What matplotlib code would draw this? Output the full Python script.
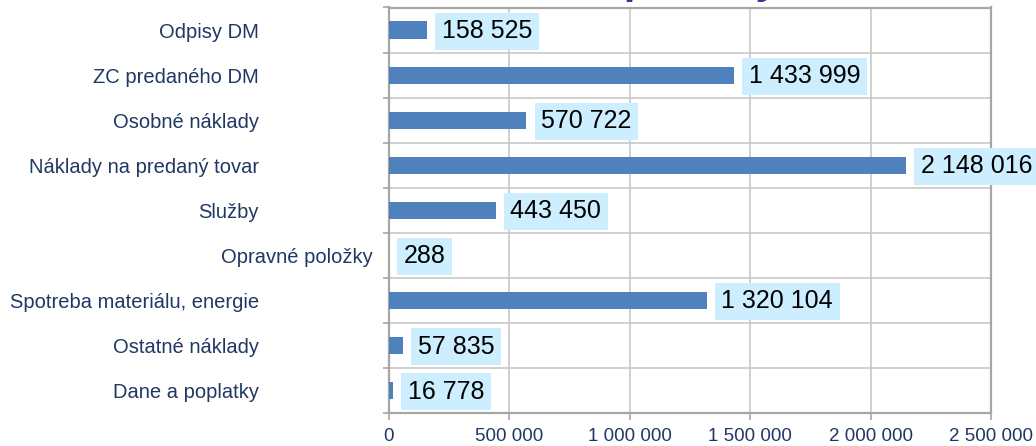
import matplotlib.pyplot as plt
import numpy as np
from matplotlib.ticker import FuncFormatter, MultipleLocator
import matplotlib.transforms as mtransforms

plt.rcParams['font.family'] = ['Liberation Sans', 'DejaVu Sans']

categories = ['Odpisy DM', 'ZC predaného DM', 'Osobné náklady',
              'Náklady na predaný tovar', 'Služby', 'Opravné položky',
              'Spotreba materiálu, energie', 'Ostatné náklady',
              'Dane a poplatky']
values = [158525, 1433999, 570722, 2148016, 443450, 288, 1320104, 57835,
          16778]
title = 'Nákladové položky'

bar_color = '#4f81bd'
label_bg = '#cdeeff'
text_blue = '#1f3864'
grid_gray = '#c8c8c8'
spine_gray = '#a6a6a6'


def fmt(v, pos=None):
    return '{:,}'.format(int(v)).replace(',', ' ')


fig = plt.figure(figsize=(10.36, 4.46), dpi=100)
ax = fig.add_axes([389 / 1036, 1 - 413 / 446, 602 / 1036, 405.5 / 446])

y = np.arange(len(categories))
ax.barh(y, values, height=0.38, color=bar_color, zorder=3)

for yi, v in zip(y, values):
    ax.annotate(fmt(v), xy=(v, yi), xytext=(10.5, -0.8),
                textcoords='offset points', ha='left', va='center',
                fontsize=18, color='black', zorder=4, annotation_clip=False,
                bbox=dict(boxstyle='square,pad=0.26', fc=label_bg, ec='none'))

ax.set_xlim(0, 2500000)
ax.set_ylim(len(categories) - 0.5, -0.5)
ax.xaxis.set_major_locator(MultipleLocator(500000))
ax.xaxis.set_major_formatter(FuncFormatter(fmt))

ax.set_yticks(y)
ax.set_yticklabels(categories)
ax.set_yticks(np.arange(len(categories) + 1) - 0.5, minor=True)
ax.tick_params(axis='y', which='major', length=0, pad=93.5,
               labelsize=14.5, labelcolor=text_blue)
ax.tick_params(axis='y', which='minor', length=4.5, width=1.2,
               color=spine_gray)
ax.tick_params(axis='x', length=5, width=1.2, color=spine_gray,
               labelsize=13.5, labelcolor=text_blue, pad=6)

# this one label sits further right in the original
for lab in ax.get_yticklabels():
    if lab.get_text() == 'Opravné položky':
        lab.set_transform(lab.get_transform() +
                          mtransforms.ScaledTranslation(114 / 100, 0,
                                                        fig.dpi_scale_trans))

ax.grid(True, axis='x', color=grid_gray, linewidth=1.2, zorder=0)
ax.grid(True, axis='y', which='minor', color=grid_gray, linewidth=1.2,
        zorder=0)
for s in ax.spines.values():
    s.set_color(spine_gray)
    s.set_linewidth(1.6)

fig.text(591 / 1036, 1 + 7 / 446, title, ha='center', va='baseline',
         fontsize=30, fontweight='bold', color='#333399')

fig.savefig('out.png', dpi=100)
